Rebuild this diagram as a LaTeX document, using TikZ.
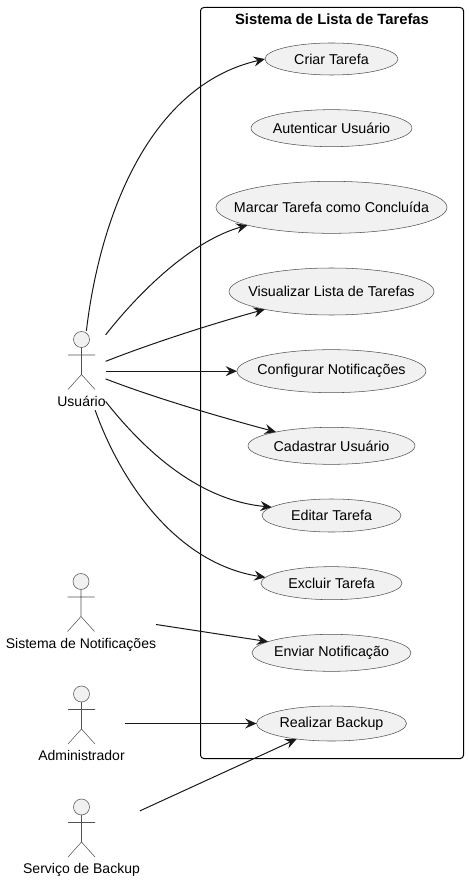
\documentclass[tikz,border=0pt]{standalone}
\usepackage{fontspec}
\setmainfont{Liberation Sans}
\usepackage{xcolor}
\usetikzlibrary{arrows.meta,positioning,shapes.geometric}
\definecolor{ink}{HTML}{181818}
\definecolor{pale}{HTML}{F1F1F1}
\tikzset{
  usecase/.style 2 args={
    ellipse, draw=ink!75, fill=pale, line width=0.4pt,
    minimum width=#1*0.75pt, minimum height=#2*0.75pt,
    inner sep=0pt, outer sep=0pt,
    font=\fontsize{10.7pt}{12pt}\selectfont
  },
  systembox/.style={
    rectangle, draw=black, line width=0.75pt, rounded corners=2.5pt,
    minimum width=197.25pt, minimum height=563.25pt
  },
  titlenode/.style={
    font=\fontsize{11.1pt}{12pt}\selectfont\bfseries, inner sep=0pt
  },
  actorbox/.style={
    rectangle, inner sep=0pt, outer sep=0pt, anchor=north,
    text height=56.4pt, text depth=3pt,
    font=\fontsize{10.5pt}{12pt}\selectfont
  },
  assoc/.style={
    -{Stealth[length=8.5pt, width=7.5pt, inset=3pt]},
    line width=0.75pt, color=ink
  },
  pics/stickfig/.style={
    code={
      \draw[draw=ink!75, fill=pale, line width=0.4pt] (0,8.5) circle (6pt);
      \draw[draw=ink!75, line width=0.4pt] (0,16.5) -- (0,43.5)
        (-13.5,24) -- (13.5,24)
        (-13.5,58.5) -- (0,43.5) -- (13.5,58.5);
    }
  },
}
\begin{document}
\begin{tikzpicture}[x=0.75pt, y=-0.75pt, node distance=26pt]
  \useasboundingbox (0,0) rectangle (468,880);

  \node[systembox] (sistema) at (332,383) {};
  \node[titlenode] (titulo) at (332,19) {Sistema de Lista de Tarefas};

  \node[usecase={133}{32}] (criar) at (331.5,59) {\clap{Criar Tarefa}};
  \node[usecase={161}{37}, below=of criar] (autenticar) {\clap{Autenticar Usuário}};
  \node[usecase={231}{52}, below=of autenticar] (marcar) {\clap{Marcar Tarefa como Concluída}};
  \node[usecase={205}{47}, below=of marcar] (visualizar) {\clap{Visualizar Lista de Tarefas}};
  \node[usecase={189}{43}, below=of visualizar] (configurar) {\clap{Configurar Notificações}};
  \node[usecase={167}{37}, below=of configurar] (cadastrar) {\clap{Cadastrar Usuário}};
  \node[usecase={139}{33}, below=of cadastrar] (editar) {\clap{Editar Tarefa}};
  \node[usecase={141}{33}, below=of editar] (excluir) {\clap{Excluir Tarefa}};
  \node[usecase={159}{37}, below=of excluir] (enviar) {\clap{Enviar Notificação}};
  \node[usecase={150}{35}, below=of enviar] (backup) {\clap{Realizar Backup}};

  \node[actorbox] (usuario) at (81.5,331) {Usuário};
  \node[actorbox] (notificador) at (81,573) {Sistema de Notificações};
  \node[actorbox] (admin) at (81.5,685.5) {Administrador};
  \node[actorbox] (servico) at (81.5,798.5) {Serviço de Backup};
  \pic at (usuario.north) {stickfig};
  \pic at (notificador.north) {stickfig};
  \pic at (admin.north) {stickfig};
  \pic at (servico.north) {stickfig};

  \draw[assoc] (usuario.83) .. controls (100,215) and (150,85) .. (criar.west);
  \draw[assoc] (usuario.56) .. controls (145,285) and (195,240) .. (marcar.192);
  \draw[assoc] (usuario.21) .. controls (155,342) and (215,323) .. (visualizar.195.5);
  \draw[assoc] (usuario.east |- configurar.west) -- (configurar.west);
  \draw[assoc] (usuario.-19) .. controls (155,398) and (220,417) .. (cadastrar.166);
  \draw[assoc] (usuario.-52) .. controls (140,445) and (195,500) .. (editar.172.8);
  \draw[assoc] (usuario.-71) .. controls (120,480) and (175,563) .. (excluir.175.2);
  \draw[assoc] (notificador.-9.5) -- (enviar.170.5);
  \draw[assoc] (admin.east |- backup.west) -- (backup.west);
  \draw[assoc] (servico.25) -- (backup.204);
\end{tikzpicture}
\end{document}
